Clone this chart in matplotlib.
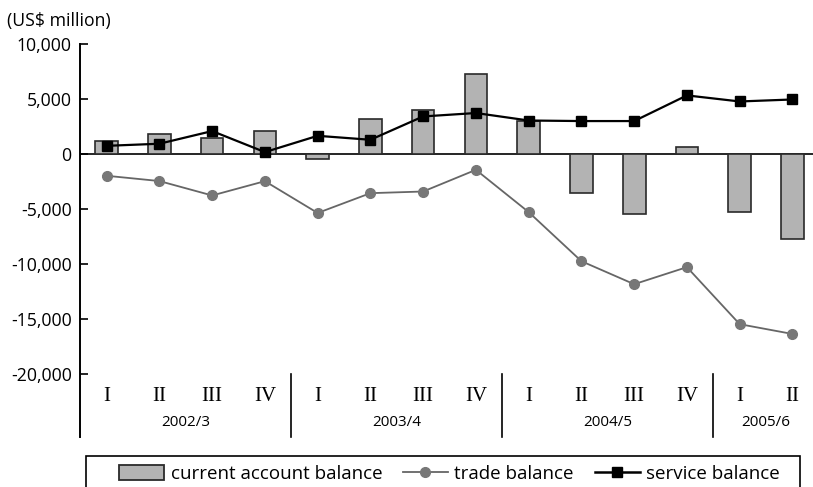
import matplotlib
matplotlib.use("Agg")
import matplotlib.pyplot as plt
from matplotlib.ticker import FuncFormatter
from matplotlib.patches import Patch, Rectangle
from matplotlib.lines import Line2D

quarters = ["I", "II", "III", "IV", "I", "II", "III", "IV", "I", "II", "III", "IV", "I", "II"]
years = ["2002/3", "2003/4", "2004/5", "2005/6"]
year_counts = [4, 4, 4, 2]
current_account = [1200, 1850, 1420, 2090, -460, 3180, 4000, 7300, 3050, -3490, -5450, 600, -5300, -7730]
trade = [-1970, -2450, -3760, -2460, -5350, -3550, -3400, -1430, -5270, -9730, -11820, -10270, -15450, -16340]
service = [750, 940, 2090, 180, 1660, 1300, 3420, 3730, 3050, 3000, 3000, 5330, 4780, 4960]

plt.rcParams['font.family'] = ['Open Sans', 'DejaVu Sans']

W, H = 813, 487
fig = plt.figure(figsize=(W/100, H/100), dpi=100)
ax = fig.add_axes([80/W, 1-437/H, 733/W, 393/H])

x = list(range(len(quarters)))
ax.bar(x, current_account, width=0.43, color="#b3b3b3", edgecolor="#2a2a2a", linewidth=1.2, zorder=2)
ax.plot(x, trade, color="#666666", linewidth=1.3, marker="o", markersize=7,
        markerfacecolor="#777777", markeredgecolor="#777777", zorder=3)
ax.plot(x, service, color="black", linewidth=1.6, marker="s", markersize=7,
        markerfacecolor="black", markeredgecolor="black", zorder=4)

ax.axhline(0, color="black", linewidth=1.2, zorder=1.5)

ax.set_xlim(-0.505, 13.39)
ax.set_ylim(-25700, 10000)
ax.set_yticks([-20000, -15000, -10000, -5000, 0, 5000, 10000])
ax.yaxis.set_major_formatter(FuncFormatter(lambda v, p: f"{int(v):,}"))
ax.tick_params(axis='y', direction='in', length=6, width=1.2, labelsize=12.7, pad=6)
ax.set_xticks([])
for s in ["top", "right", "bottom"]:
    ax.spines[s].set_visible(False)
ax.spines["left"].set_linewidth(1.4)

# category labels
for i, q in enumerate(quarters):
    ax.text(i, -22000, q, ha="center", va="center", fontsize=15,
            family=["Liberation Serif"], clip_on=False)
start = 0
for y, n in zip(years, year_counts):
    ax.text(start + (n - 1) / 2, -24350, y, ha="center", va="center", fontsize=11, clip_on=False)
    start += n
for sep in [3.5, 7.5, 11.5]:
    ax.plot([sep, sep], [-20000, -25700], color="black", linewidth=1.2, clip_on=False)

fig.text(7/W, 1-21/H, "(US$ million)", ha="left", va="center", fontsize=12.7)

handles = [
    Patch(facecolor="#b3b3b3", edgecolor="#2a2a2a", linewidth=1.3, label="current account balance"),
    Line2D([], [], color="#666666", linewidth=1.3, marker="o", markersize=7,
           markerfacecolor="#777777", markeredgecolor="#777777", label="trade balance"),
    Line2D([], [], color="black", linewidth=1.8, marker="s", markersize=7,
           markerfacecolor="black", markeredgecolor="black", label="service balance"),
]
leg = fig.legend(handles=handles, loc="center left", bbox_to_anchor=(119/W, 1-474/H),
                 ncol=3, frameon=False, fontsize=13.5, handlelength=2.4, handleheight=0.8,
                 columnspacing=1.1, handletextpad=0.35, borderpad=0, borderaxespad=0)

fig.patches.append(Rectangle((86/W, -10/H), (800-86)/W, (H-456+10)/H,
                             transform=fig.transFigure, facecolor="none",
                             edgecolor="black", linewidth=1.2))

fig.savefig("out.png", dpi=100)
